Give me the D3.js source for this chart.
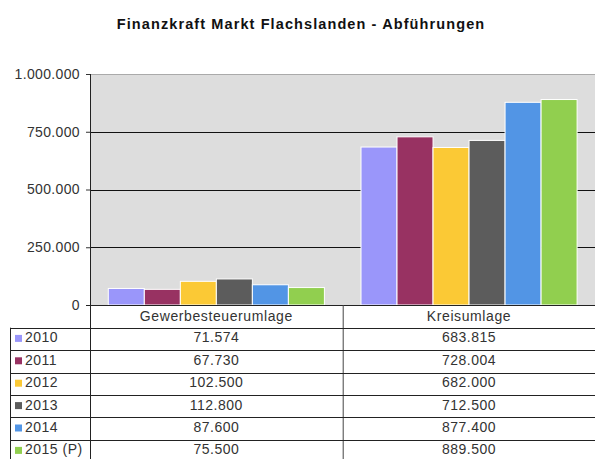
<!DOCTYPE html>
<html><head><meta charset="utf-8">
<script src="https://cdn.jsdelivr.net/npm/d3@7"></script>
<style>body{margin:0;background:#fff}svg{display:block;font-family:"Liberation Sans",Arial,sans-serif}</style>
</head><body><svg id="c" width="595" height="459"></svg>
<script>
const categories = ["Gewerbesteuerumlage", "Kreisumlage"];
const series = ["2010", "2011", "2012", "2013", "2014", "2015 (P)"];
const values2010 = [71574, 683815];
const values2011 = [67730, 728004];
const values2012 = [102500, 682000];
const values2013 = [112800, 712500];
const values2014 = [87600, 877400];
const values2015 = [75500, 889500];
const colors = ["#9a96fa", "#983262", "#fbc935", "#5c5c5c", "#5295e5", "#91cf4f"];
const yTicks = [0, 250000, 500000, 750000, 1000000];
const title = "Finanzkraft Markt Flachslanden - Abführungen";

const allValues = [values2010, values2011, values2012, values2013, values2014, values2015];
const fmt = d3.formatLocale({decimal: ",", thousands: ".", grouping: [3], currency: ["", "€"]}).format(",.0f");

const svg = d3.select("#c");
const L = 90, R = 595.4, T = 74, B = 305;
const rowH = 22.4, headH = 22.7;

svg.append("text").attr("x", 301).attr("y", 29.3).attr("text-anchor", "middle")
  .attr("font-size", 14.5).attr("letter-spacing", 1.1).attr("font-weight", "bold").attr("fill", "#111").text(title);

const x0 = d3.scaleBand().domain(categories).range([L, R]);
const x1 = d3.scaleBand().domain(series).range([18.3, x0.bandwidth() - 18.3]);
const y = d3.scaleLinear().domain([0, 1000000]).range([B, T]);

svg.append("rect").attr("x", L).attr("y", T).attr("width", R - L).attr("height", B - T).attr("fill", "#dddddd");
svg.append("line").attr("x1", L).attr("x2", R).attr("y1", T + 0.5).attr("y2", T + 0.5).attr("stroke", "#aaa");

const yAxis = d3.axisLeft(y).tickValues(yTicks).tickSize(4).tickPadding(6).tickFormat(d => fmt(d));
const gy = svg.append("g").attr("transform", `translate(${L},0)`).call(yAxis);
gy.select(".domain").remove();
gy.selectAll("text").attr("font-size", 14).attr("letter-spacing", 0.35).attr("fill", "#333").attr("font-family", "Liberation Sans, Arial, sans-serif");
gy.selectAll(".tick line").attr("stroke", "#333");

svg.append("g").selectAll("line").data(yTicks.filter(d => d > 0 && d < 1000000)).join("line")
  .attr("x1", L).attr("x2", R).attr("y1", d => Math.round(y(d)) + 0.5).attr("y2", d => Math.round(y(d)) + 0.5)
  .attr("stroke", "#111");

const g = svg.append("g");
series.forEach((s, i) => {
  g.selectAll(null).data(allValues[i]).join("rect")
    .attr("x", (d, j) => x0(categories[j]) + x1(s))
    .attr("y", d => y(d))
    .attr("width", x1.bandwidth())
    .attr("height", d => B - y(d))
    .attr("fill", colors[i]).attr("stroke", "#fff").attr("stroke-width", 1);
});

// baseline
svg.append("line").attr("x1", L - 4).attr("x2", R).attr("y1", B + 0.5).attr("y2", B + 0.5).attr("stroke", "#222");

// data table
const tableTop = B + headH;
const tableBottom = tableTop + rowH * series.length;
const tg = svg.append("g");
tg.append("line").attr("x1", L + 0.5).attr("x2", L + 0.5).attr("y1", T).attr("y2", tableBottom).attr("stroke", "#222");
tg.append("line").attr("x1", 10.5).attr("x2", 10.5).attr("y1", tableTop).attr("y2", tableBottom).attr("stroke", "#222");
tg.append("line").attr("x1", x0(categories[1]) + 0.5).attr("x2", x0(categories[1]) + 0.5).attr("y1", B).attr("y2", tableBottom).attr("stroke", "#444");
series.forEach((s, i) => {
  const yy = Math.round(tableTop + i * rowH) + 0.5;
  tg.append("line").attr("x1", 10).attr("x2", R).attr("y1", yy).attr("y2", yy).attr("stroke", "#222");
});
categories.forEach(c => {
  tg.append("text").attr("x", x0(c) + x0.bandwidth() / 2).attr("y", B + headH / 2 + 5)
    .attr("text-anchor", "middle").attr("font-size", 14).attr("letter-spacing", 0.6).attr("fill", "#333").text(c);
});
series.forEach((s, i) => {
  const cy = tableTop + i * rowH + rowH / 2;
  tg.append("rect").attr("x", 15).attr("y", cy - 4).attr("width", 7).attr("height", 7).attr("fill", colors[i]);
  tg.append("text").attr("x", 25).attr("y", cy + 3.5).attr("font-size", 14).attr("letter-spacing", 0.5).attr("fill", "#333").text(s);
  categories.forEach((c, j) => {
    tg.append("text").attr("x", x0(c) + x0.bandwidth() / 2).attr("y", cy + 3.5)
      .attr("text-anchor", "middle").attr("font-size", 14).attr("letter-spacing", 0.5).attr("fill", "#333").text(fmt(allValues[i][j]));
  });
});
</script></body></html>
